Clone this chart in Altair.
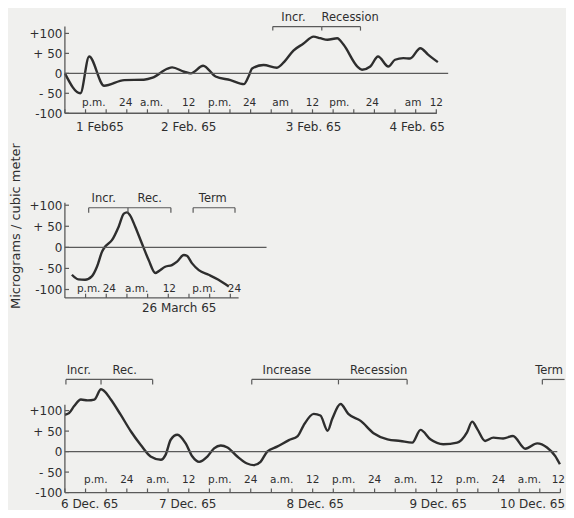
import altair as alt
import pandas as pd

FONT = "DejaVu Sans"
INK = "#2e2e2e"
AXC = "#5a5a5a"
BG = "#f0f0ee"

# ---------------- Panel 1 : 1-4 Feb 65 (hours from 1 Feb 12:00) ----------------
p1_hours = [0, 3.0, 4.7, 7.6, 11.5, 15.3, 17.0, 19.9, 20.8, 23.1, 24.4, 26.8, 29.2,
            32.1, 34.7, 35.6, 36.3, 38.5, 41.1, 42.6, 44.3, 46.2, 48.2, 49.5, 50.9,
            52.8, 54.0, 56.7, 57.6, 59.2, 60.7, 62.7, 64.0, 65.6, 66.9, 68.9, 70.4, 72.3]
p1_values = [0, -50, 42, -31, -17, -16, -11, 12, 15, 4, 0, 19, -8,
             -17, -27, -8, 12, 21, 14, 30, 57, 74, 92, 88, 84,
             88, 72, 17, 9, 17, 42, 17, 34, 38, 37, 63, 47, 28]
p1_hour_pos = [5.6, 11.8, 16.8, 24, 30, 35.8, 41.8, 48, 53.2, 59.6, 67.5, 72]
p1_hour_txt = ["p.m.", "24", "a.m.", "12", "p.m.", "24", "am", "12", "pm.", "24", "am", "12"]
p1_ticks = list(range(0, 73, 4))
p1_date_pos = [6.8, 24, 48.2, 68.3]
p1_date_txt = ["1 Feb65", "2 Feb. 65", "3 Feb. 65", "4 Feb. 65"]
p1_br_start = [40.3, 49.8]
p1_br_end = [49.8, 57.3]
p1_br_ticks = [40.3, 49.8, 57.3]
p1_br_txt_pos = [44.3, 55.3]
p1_br_txt = ["Incr.", "Recession"]

# ---------------- Panel 2 : 26 March 65 (hours from 25 March 16:00) ----------------
p2_hours = [1.35, 2.6, 3.9, 5.2, 6.2, 7.2, 7.8, 9.1, 10.4, 11.4, 12.0, 12.6, 13.6,
            14.9, 16.2, 17.5, 18.1, 19.4, 20.7, 21.7, 23.0, 23.6, 24.6, 25.9,
            27.8, 29.7, 31.7]
p2_values = [-65, -76, -77, -69, -46, -10, 2, 17, 49, 80, 83, 76, 49,
             9, -30, -61, -57, -46, -42, -34, -18, -20, -38, -54,
             -65, -77, -93]
p2_hour_pos = [4.6, 8.6, 13.9, 20.2, 26.9, 32.8]
p2_hour_txt = ["p.m.", "24", "a.m.", "12", "p.m.", "24"]
p2_ticks = list(range(4, 33, 4))
p2_date_pos = [22.1]
p2_date_txt = ["26 March 65"]
p2_br_start = [4.6, 12.2, 24.8]
p2_br_end = [12.2, 20.5, 32.9]
p2_br_ticks = [4.6, 12.2, 20.5, 24.8, 32.9]
p2_br_txt_pos = [7.5, 16.4, 28.6]
p2_br_txt = ["Incr.", "Rec.", "Term"]

# ---------------- Panel 3 : 6-10 Dec 65 (hours from 6 Dec 12:00) ----------------
p3_hours = [0, 0.8, 1.8, 3.1, 4.4, 5.7, 7.0, 7.6, 8.9, 10.8, 12.8, 14.7, 16.6, 18.6,
            19.5, 20.5, 21.8, 23.4, 24.7, 26.0, 27.6, 28.9, 30.2, 31.5, 33.4, 35.3,
            36.6, 37.9, 39.2, 41.1, 43.4, 45.1, 46.2, 48.2, 49.5, 50.9, 51.8, 53.4,
            54.9, 57.3, 59.8, 62.5, 65.0, 67.3, 68.9, 70.8, 73.3, 76.0, 77.9, 78.9,
            79.9, 81.4, 83.0, 84.9, 86.8, 89.2, 91.5, 93.4, 95.0, 95.9]
p3_values = [90, 94, 111, 127, 125, 127, 152, 148, 127, 90, 49, 16, -12, -20,
             -8, 29, 41, 20, -12, -25, -12, 8, 15, 10, -12, -29,
             -33, -25, 0, 12, 28, 38, 63, 92, 88, 51, 80, 116,
             92, 75, 45, 30, 26, 22, 53, 30, 18, 22, 47, 73,
             55, 26, 34, 32, 38, 7, 20, 10, -11, -31]
p3_hour_pos = [6, 12, 18, 24, 30, 36, 42, 48, 54, 60, 66, 72, 78, 84, 90, 95.6]
p3_hour_txt = ["p.m.", "24", "a.m.", "12", "p.m.", "24", "a.m.", "12",
               "p.m.", "24", "a.m.", "12", "p.m.", "24", "a.m.", "12"]
p3_ticks = list(range(0, 97, 4))
p3_date_pos = [4.8, 23.8, 48.5, 72.3, 90.6]
p3_date_txt = ["6 Dec. 65", "7 Dec. 65", "8 Dec. 65", "9 Dec. 65", "10 Dec. 65"]
p3_br_start = [0.2, 7.0, 36.2, 53.0, 92.5]
p3_br_end = [7.0, 17.0, 53.0, 66.3, 96.8]
p3_br_ticks = [0.2, 7.0, 17.0, 36.2, 53.0, 66.3, 92.5]
p3_br_txt_pos = [2.7, 11.6, 43.0, 60.8, 93.8]
p3_br_txt = ["Incr.", "Rec.", "Increase", "Recession", "Term"]

y_ticks = [-100, -50, 0, 50, 100]
y_title = "Micrograms / cubic meter"

LABEL_EXPR = ("datum.value > 0 ? (datum.value < 100 ? '+ ' : '+') + datum.value : "
              "(datum.value < 0 ? (datum.value > -100 ? '- ' : '-') + abs(datum.value) : '0')")


def panel(hours, values, hour_pos, hour_txt, ticks, date_pos, date_txt,
          br_start, br_end, br_ticks, br_txt_pos, br_txt,
          xdom, ydom, width, height, axis_end, zero_end, yaxis_top,
          hour_y, br_y, br_tick_y, br_txt_y, tick_len, date_dy, extra=None):
    xs = alt.Scale(domain=xdom, nice=False, zero=False)
    ys = alt.Scale(domain=ydom, nice=False, zero=False)
    yaxis = alt.Axis(values=y_ticks, domain=False, ticks=False, grid=False, title=None,
                     labelFont=FONT, labelFontSize=12, labelColor=INK, labelPadding=3,
                     labelExpr=LABEL_EXPR)
    ymin = ydom[0]
    X = lambda f: alt.X(f, type="quantitative", scale=xs, axis=None)
    Y = lambda f: alt.Y(f, type="quantitative", scale=ys, axis=yaxis)

    curve = alt.Chart(pd.DataFrame({"h": hours, "v": values})).mark_line(
        interpolate="monotone", color=INK, strokeWidth=2.4
    ).encode(x=X("h"), y=Y("v"))

    axes_df = pd.DataFrame({
        "x": [0, 0, 0], "x2": [axis_end, zero_end, 0],
        "y": [ymin, 0, ymin], "y2": [ymin, 0, yaxis_top]})
    axes = alt.Chart(axes_df).mark_rule(color=AXC, strokeWidth=1.3).encode(
        x=X("x"), x2="x2", y=Y("y"), y2="y2")

    tick_df = pd.DataFrame({"x": ticks, "y": [ymin] * len(ticks),
                            "y2": [ymin + tick_len] * len(ticks)})
    xt = alt.Chart(tick_df).mark_rule(color=AXC, strokeWidth=1.2).encode(
        x=X("x"), y=Y("y"), y2="y2")

    ytick_df = pd.DataFrame({"x": [0] * len(y_ticks), "x2": [0.8] * len(y_ticks), "y": y_ticks})
    yt = alt.Chart(ytick_df).mark_rule(color=AXC, strokeWidth=1.2).encode(
        x=X("x"), x2="x2", y=Y("y"))

    hl = alt.Chart(pd.DataFrame({"x": hour_pos, "t": hour_txt,
                                 "y": [hour_y] * len(hour_pos)})).mark_text(
        font=FONT, fontSize=10.5, color=INK, baseline="middle", align="center"
    ).encode(x=X("x"), y=Y("y"), text="t:N")

    dl = alt.Chart(pd.DataFrame({"x": date_pos, "t": date_txt,
                                 "y": [ymin] * len(date_pos)})).mark_text(
        font=FONT, fontSize=12, color=INK, baseline="middle", align="center", dy=date_dy
    ).encode(x=X("x"), y=Y("y"), text="t:N")

    brh = alt.Chart(pd.DataFrame({"x": br_start, "x2": br_end,
                                  "y": [br_y] * len(br_start)})).mark_rule(
        color=AXC, strokeWidth=1.2).encode(x=X("x"), x2="x2", y=Y("y"))
    brv = alt.Chart(pd.DataFrame({"x": br_ticks, "y": [br_y] * len(br_ticks),
                                  "y2": [br_tick_y] * len(br_ticks)})).mark_rule(
        color=AXC, strokeWidth=1.2).encode(x=X("x"), y=Y("y"), y2="y2")
    brt = alt.Chart(pd.DataFrame({"x": br_txt_pos, "t": br_txt,
                                  "y": [br_txt_y] * len(br_txt_pos)})).mark_text(
        font=FONT, fontSize=11.5, color=INK, baseline="bottom", align="center"
    ).encode(x=X("x"), y=Y("y"), text="t:N")

    layers = [curve, axes, xt, yt, hl, dl, brh, brv, brt]
    if extra is not None:
        layers.append(extra)
    return alt.layer(*layers).properties(width=width, height=height)


p1 = panel(p1_hours, p1_values, p1_hour_pos, p1_hour_txt, p1_ticks, p1_date_pos, p1_date_txt,
           p1_br_start, p1_br_end, p1_br_ticks, p1_br_txt_pos, p1_br_txt,
           xdom=[0, 74.5], ydom=[-100, 162.5], width=385, height=105,
           axis_end=72.1, zero_end=74.3, yaxis_top=117,
           hour_y=-74, br_y=117, br_tick_y=107, br_txt_y=126, tick_len=10, date_dy=14)

title_mark = alt.Chart(pd.DataFrame({"t": [y_title]})).mark_text(
    font=FONT, fontSize=13, color=INK, angle=270, align="center", baseline="middle"
).encode(text="t:N", x=alt.value(-49), y=alt.value(42))

p2 = panel(p2_hours, p2_values, p2_hour_pos, p2_hour_txt, p2_ticks, p2_date_pos, p2_date_txt,
           p2_br_start, p2_br_end, p2_br_ticks, p2_br_txt_pos, p2_br_txt,
           xdom=[0, 39], ydom=[-120, 150], width=202, height=114,
           axis_end=33.6, zero_end=39, yaxis_top=106,
           hour_y=-100, br_y=94, br_tick_y=82, br_txt_y=104, tick_len=10, date_dy=10,
           extra=title_mark)

p3 = panel(p3_hours, p3_values, p3_hour_pos, p3_hour_txt, p3_ticks, p3_date_pos, p3_date_txt,
           p3_br_start, p3_br_end, p3_br_ticks, p3_br_txt_pos, p3_br_txt,
           xdom=[0, 96.5], ydom=[-100, 202], width=499, height=124,
           axis_end=96, zero_end=95.4, yaxis_top=114,
           hour_y=-70, br_y=176, br_tick_y=164, br_txt_y=185, tick_len=10, date_dy=11)

chart = alt.vconcat(p1, p2, p3, spacing=71, bounds="flush").properties(
    padding={"left": 1, "top": 0, "right": 0, "bottom": 0},
    background=BG,
).configure_view(stroke=None)

chart.save("out.html", embed_options={"renderer": "svg", "actions": False})
